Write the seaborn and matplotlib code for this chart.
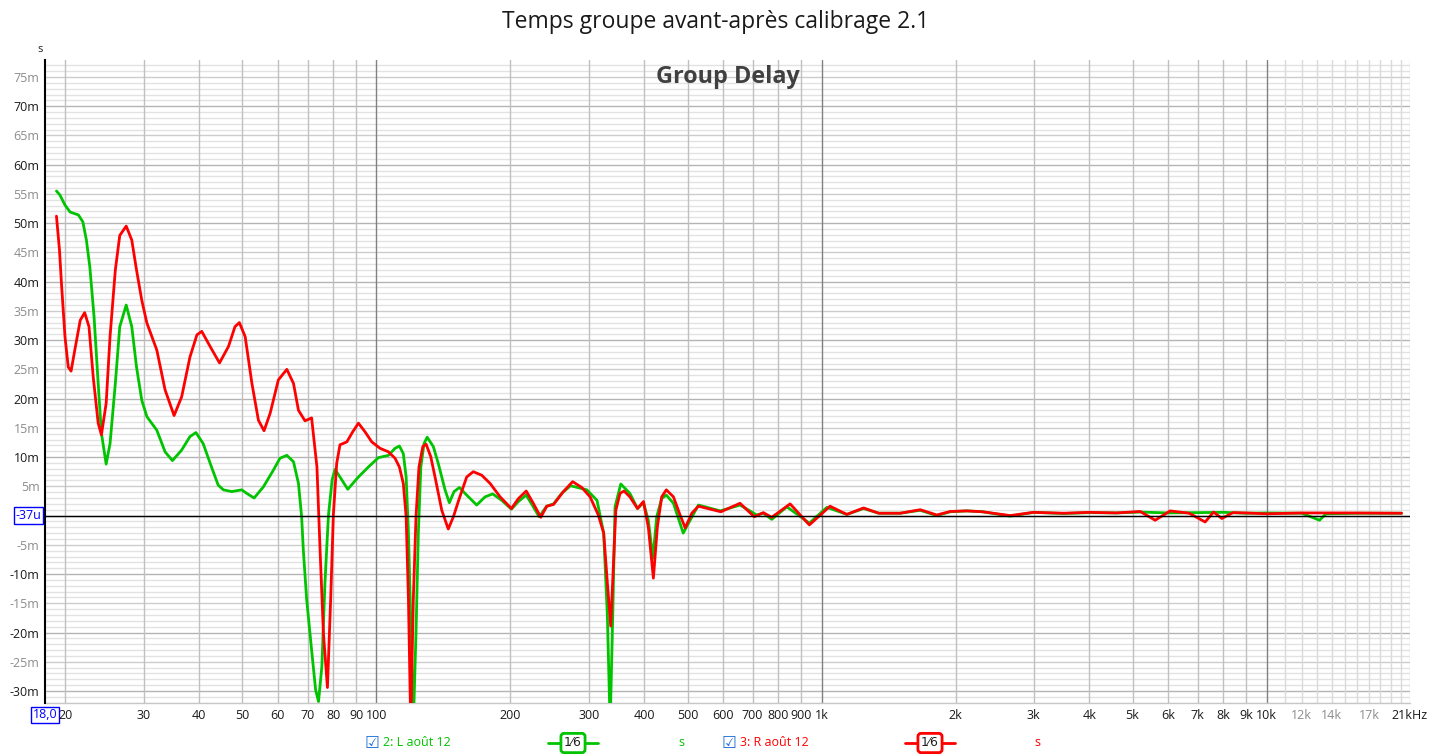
import numpy as np
import pandas as pd
import matplotlib
matplotlib.use("Agg")
import matplotlib.pyplot as plt
import seaborn as sns
from matplotlib.lines import Line2D

# group delay (Hz, ms)
left_freq = [19.1, 19.45, 19.96, 20.5, 21.4, 21.9, 22.3, 22.7, 23.2, 23.7, 24.1, 24.7,
             25.2, 25.9, 26.5, 27.4, 28.2, 28.9, 29.7, 30.5, 32.1, 33.5, 34.8, 36.5,
             38.1, 39.3, 40.8, 42.6, 44.1, 45.3, 47.3, 49.8, 51.1, 53.1, 55.7, 58.7,
             60.7, 62.9, 65.1, 66.8, 67.9, 68.5, 69.7, 71.5, 73.0, 74.1, 75.4, 76.6,
             78.0, 79.5, 80.7, 83.6, 86.2, 91.1, 95.9, 101, 106.4, 110.1, 112.6, 114.9,
             116.6, 118.0, 119.6, 121, 122.7, 124.2, 125.8, 127.9, 130, 134.2, 137.7,
             142.6, 145.8, 149.4, 153.6, 159.5, 168, 175.4, 182.5, 191.2, 201, 208.4,
             217, 225.1, 232, 241.3, 250, 260.8, 273, 297, 313, 324, 330.3, 335,
             339.5, 343.6, 354, 371, 386, 398, 408.2, 418, 426.3, 437.4, 448, 464.8,
             489, 506.6, 529, 592, 656, 715, 740, 773, 836, 939, 1028, 1140, 1243,
             1345, 1502, 1666, 1816, 1946, 2121, 2300, 2653, 2994, 3500, 4000, 4600,
             5200, 6000, 7000, 8000, 9000, 10000, 12000, 13150, 13600, 16000, 20100]
left_delay = [55.5, 54.8, 53.1, 51.9, 51.4, 50.2, 47.1, 42.5, 34.0, 22.6, 14.1, 8.8,
              12.3, 22.6, 32.3, 36.0, 32.3, 25.4, 19.7, 16.9, 14.6, 10.9, 9.4, 11.2,
              13.5, 14.2, 12.3, 8.3, 5.2, 4.4, 4.1, 4.4, 3.8, 3.0, 4.9, 7.8,
              9.8, 10.3, 9.2, 5.5, -0.2, -5.9, -14.4, -23.0, -29.8, -31.8, -25.8, -11.6,
              0.0, 6.1, 7.9, 6.1, 4.5, 6.6, 8.3, 9.9, 10.3, 11.5, 11.9, 10.6,
              6.6, -3.0, -20.1, -36.0, -20.1, -3.0, 8.3, 12.3, 13.4, 11.8, 8.9,
              4.4, 2.2, 4.1, 4.8, 3.5, 1.8, 3.2, 3.7, 2.6, 1.1, 2.4,
              3.5, 1.5, -0.2, 1.6, 2.0, 3.8, 5.1, 4.4, 2.6, -3.0, -17.3, -36.0,
              -17.3, 1.5, 5.4, 3.8, 1.2, 2.2, -0.8, -7.3, -0.2, 2.9, 3.5, 2.1,
              -3.0, -0.8, 1.8, 0.8, 1.8, 0.1, 0.4, -0.65, 1.5, -1.3, 1.4, 0.2, 1.2,
              0.4, 0.4, 0.9, 0.0, 0.65, 0.8, 0.65, -0.1, 0.55, 0.35, 0.5, 0.45,
              0.6, 0.45, 0.5, 0.55, 0.4, 0.45, 0.4, -0.8, 0.3, 0.4, 0.4]

right_freq = [19.1, 19.4, 19.6, 19.96, 20.3, 20.6, 21.0, 21.6, 22.1, 22.6, 23.1, 23.7,
              24.1, 24.7, 25.2, 25.9, 26.5, 27.4, 28.2, 28.9, 29.7, 30.5, 32.1, 33.5,
              35.1, 36.5, 38.1, 39.5, 40.5, 42.3, 44.4, 46.5, 48.1, 49.2, 50.7, 52.5,
              54.3, 55.9, 57.7, 60.2, 62.9, 65.1, 66.8, 69.1, 71.5, 73.5, 74.7, 76.0,
              77.6, 78.9, 80, 81.4, 82.8, 85.8, 88.4, 91.1, 94.3, 97.6, 101.9, 106.4,
              110.1, 112.6, 114.9, 116.6, 118.0, 119.4, 121.0, 122.7, 124.6, 127.1,
              129.3, 132.4, 135.4, 140.2, 145, 148.9, 153, 159.5, 165, 172.4, 180,
              189.6, 201, 208.4, 217, 225.1, 234, 241.3, 250, 263, 276, 289.3, 302,
              315.1, 324, 330.3, 336, 340.5, 345, 352.6, 360, 371, 386, 398, 408.2,
              419, 427.8, 437.4, 448, 464.8, 481, 494, 511.1, 529, 594, 656, 706, 740,
              773, 850, 939, 1045, 1140, 1243, 1345, 1502, 1666, 1816, 1946, 2121,
              2300, 2653, 2994, 3500, 4000, 4600, 5200, 5619, 6072, 6700, 7278, 7600,
              7935, 8400, 9000, 10000, 12000, 15000, 20100]
right_delay = [51.2, 45.4, 39.7, 30.6, 25.4, 24.7, 28.3, 33.4, 34.7, 32.3, 23.7, 15.8,
               13.8, 19.2, 30.6, 42.0, 47.9, 49.5, 47.1, 42.0, 36.8, 32.9, 28.3, 21.5,
               17.1, 20.3, 27.1, 30.9, 31.5, 28.9, 26.1, 28.9, 32.3, 33.0, 30.6, 22.6,
               16.3, 14.5, 17.5, 23.2, 25.0, 22.6, 18.0, 16.2, 16.7, 8.3, -5.9, -20.1,
               -29.4, -14.4, 0.0, 8.9, 12.1, 12.6, 14.3, 15.8, 14.3, 12.6, 11.5, 10.9,
               9.8, 8.3, 5.5, -0.2, -14.4, -36.0, -14.4, -0.2, 8.3, 11.8,
               12.2, 10.1, 6.6, 0.9, -2.3, -0.2, 2.6, 6.6, 7.5, 6.9, 5.5,
               3.2, 1.2, 2.9, 4.2, 2.1, -0.3, 1.6, 1.9, 4.1, 5.8, 4.8, 3.2,
               0.1, -3.0, -11.6, -18.9, -8.8, 0.9, 3.8, 4.2, 3.2, 1.2, 2.4, -2.0,
               -10.7, -1.9, 3.2, 4.4, 3.2, 0.1, -2.1, 0.4, 1.6, 0.65, 2.1, -0.2, 0.5,
               -0.3, 2.0, -1.6, 1.6, 0.2, 1.3, 0.4, 0.4, 1.0, 0.1, 0.7, 0.8,
               0.65, 0.0, 0.55, 0.4, 0.55, 0.45, 0.7, -0.8, 0.8, 0.4, -1.1, 0.6,
               -0.5, 0.5, 0.45, 0.3, 0.45, 0.45, 0.4]

channels = ["L", "R"]
green = "#00c400"
red = "#ff0000"

df = pd.concat([
    pd.DataFrame({"freq": left_freq, "delay": left_delay, "channel": "L"}),
    pd.DataFrame({"freq": right_freq, "delay": right_delay, "channel": "R"}),
])

sns.set_theme(style="white")
plt.rcParams["font.family"] = ["Open Sans", "DejaVu Sans"]

W, H = 1433, 755
fig = plt.figure(figsize=(W / 100, H / 100), dpi=100)
ax = fig.add_axes([45 / W, 52 / H, 1365 / W, 643 / H])
ax.set_xscale("log")
ax.set_xlim(18, 21000)
ax.set_ylim(-32.05, 77.9)

# grid, drawn by hand like REW does
for v in range(-32, 78):
    if v % 10 == 0:
        c = "#b4b4b4"
    elif v % 5 == 0:
        c = "#cccccc"
    else:
        c = "#e2e2e2"
    ax.axhline(v, color=c, lw=1, zorder=0)

grid_f = (list(range(20, 100, 10)) + list(range(200, 1000, 100))
          + list(range(2000, 10000, 1000)))
for f in grid_f:
    ax.axvline(f, color="#c0c0c0", lw=1, zorder=0)
for f in [100, 1000, 10000]:
    ax.axvline(f, color="#808080", lw=1, zorder=0)
for f in range(11000, 22000, 1000):
    ax.axvline(f, color="#dadada", lw=1, zorder=0)

sns.lineplot(data=df, x="freq", y="delay", hue="channel", hue_order=channels,
             palette={"L": green, "R": red}, estimator=None, sort=False,
             linewidth=2, legend=False, ax=ax, zorder=2)

ax.axhline(0, color="black", lw=1, zorder=3)

# y ticks
yt = list(range(-30, 80, 5))
ax.set_yticks(yt)
ax.set_yticklabels(["" if v == 0 else f"{v}m" for v in yt], fontsize=9)
for lab, v in zip(ax.get_yticklabels(), yt):
    lab.set_color("#1a1a1a" if v % 10 == 0 else "#8c8c8c")
ax.yaxis.set_minor_locator(matplotlib.ticker.NullLocator())

# x ticks
xt = (list(range(20, 100, 10)) + list(range(100, 1000, 100))
      + list(range(1000, 11000, 1000)) + [12000, 14000, 17000, 21000])
xl = []
for f in xt:
    if f == 21000:
        xl.append("21kHz")
    elif f >= 1000:
        xl.append(f"{f // 1000}k")
    else:
        xl.append(str(f))
ax.set_xticks(xt)
ax.set_xticklabels(xl, fontsize=9)
ax.xaxis.set_minor_locator(matplotlib.ticker.NullLocator())
for lab, f in zip(ax.get_xticklabels(), xt):
    lab.set_color("#8c8c8c" if f in (12000, 14000, 17000) else "#1a1a1a")
ax.tick_params(axis="both", length=0, pad=4)
ax.set_xlabel("")
ax.set_ylabel("")

for s in ["top", "right", "bottom"]:
    ax.spines[s].set_visible(False)
ax.spines["left"].set_color("black")
ax.spines["left"].set_linewidth(1.5)
ax.axhline(-32.05, color="#c8c8c8", lw=1, zorder=0, clip_on=False)

# cursor boxes
ax.text(-0.0025, 0, "-37u", transform=ax.get_yaxis_transform(), ha="right", va="center",
        fontsize=9, color="#0000ff",
        bbox=dict(boxstyle="square,pad=0.15", fc="white", ec="#0000ff", lw=1))
fig.text(45 / W, 1 - 715 / H, "18,0", ha="center", va="center", fontsize=9, color="#0000ff",
         bbox=dict(boxstyle="square,pad=0.15", fc="white", ec="#0000ff", lw=1))

fig.text(40 / W, 1 - 50 / H, "s", fontsize=8, ha="center", va="center", color="#202020")
fig.text(716 / W, 1 - 22 / H, "Temps groupe avant-après calibrage 2.1", ha="center",
         va="center", fontsize=16.5, color="#1a1a1a")
fig.text(728 / W, 1 - 77 / H, "Group Delay", ha="center", va="center", fontsize=16.8,
         fontweight="bold", color="#404040")

# bottom legend strip
ly = 1 - 743 / H
for xc, col, name, boxx, sx in [(372, green, "2: L août 12", 573, 681),
                                (729, red, "3: R août 12", 930, 1037)]:
    fig.text(xc / W, ly, "☑", ha="center", va="center", fontsize=12, color="#1e6fd9",
             family="DejaVu Sans")
    fig.text((xc + 11) / W, ly, name, ha="left", va="center", fontsize=9, color=col)
    fig.add_artist(Line2D([(boxx - 25) / W, (boxx + 25) / W], [ly, ly],
                          color=col, lw=2, transform=fig.transFigure))
    fig.text(boxx / W, ly, "1⁄6", ha="center", va="center", fontsize=9, color="#202020",
             family="DejaVu Sans",
             bbox=dict(boxstyle="round,pad=0.25", fc="white", ec=col, lw=2))
    fig.text(sx / W, ly, "s", ha="center", va="center", fontsize=9, color=col)

fig.savefig("out.png", dpi=100)
